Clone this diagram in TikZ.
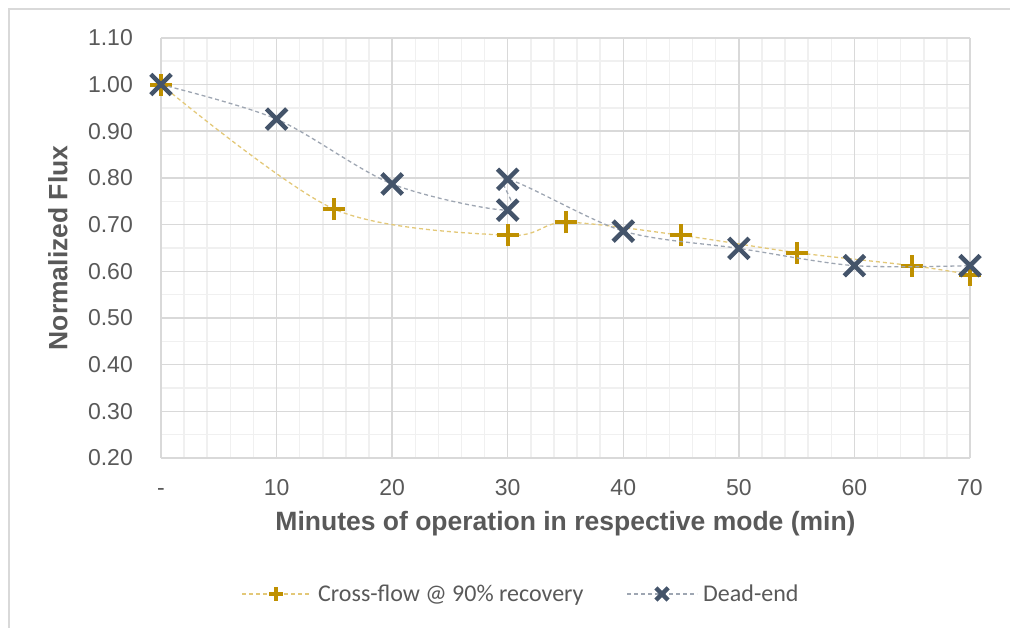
\documentclass[tikz,border=0pt]{standalone}
\usepackage{fontspec}
\setmainfont{Liberation Sans}
\newfontfamily\legendfont{Carlito}
\usetikzlibrary{calc, positioning}

\definecolor{majorgray}{HTML}{D9D9D9}
\definecolor{minorgray}{HTML}{F0F0F0}
\definecolor{labelgray}{HTML}{595959}
\definecolor{crossgold}{HTML}{BF9000}
\definecolor{crossdash}{HTML}{E3C878}
\definecolor{deadblue}{HTML}{44546A}
\definecolor{deaddash}{HTML}{9EA6B2}

\begin{document}
\begin{tikzpicture}[
		majorline/.style={majorgray, line width=1.5pt},
		minorline/.style={minorgray, line width=1.5pt},
		ticklabel/.style={text=labelgray, font=\fontsize{23}{27}\selectfont, inner sep=0pt},
		axistitle/.style={text=labelgray, font=\bfseries\fontsize{26.5}{30}\selectfont, inner sep=0pt},
		legendtext/.style={text=labelgray, font=\legendfont\fontsize{24}{28}\selectfont, inner sep=0pt},
		crossline/.style={crossdash, line width=1.3pt, dash pattern=on 4pt off 3pt},
		deadline/.style={deaddash, line width=1.3pt, dash pattern=on 4pt off 3pt},
		plusmark/.pic={\draw[crossgold, line width=4pt] (-11pt,0pt) -- (11pt,0pt) (0pt,-11pt) -- (0pt,11pt);},
		xmark/.pic={\draw[deadblue, line width=4.5pt] (-10.2pt,-10.2pt) -- (10.2pt,10.2pt) (-10.2pt,10.2pt) -- (10.2pt,-10.2pt);}
	]
		\useasboundingbox (0,0) rectangle (1010pt,628pt);
		\draw[majorline] (9pt,0pt) -- (9pt,619pt) -- (1010pt,619pt);
		
		\begin{scope}[x=11.557pt, y=466.8pt, shift={(161pt,76.64pt)}]
			% grid
			\foreach \i in {0,...,35} \draw[minorline] (2*\i,0.2) -- (2*\i,1.1);
			\foreach \k in {4,...,22} \draw[minorline] (0,\k/20) -- (70,\k/20);
			\foreach \i in {0,...,7} \draw[majorline] (10*\i,0.2) -- (10*\i,1.1);
			\foreach \k in {2,...,11} \draw[majorline] (0,\k/10) -- (70,\k/10);
			
			\foreach \v [count=\i] in {0.20,0.30,0.40,0.50,0.60,0.70,0.80,0.90,1.00,1.10}
				\node[ticklabel, anchor=east] (ytick\i) at ([xshift=-28pt]0,\v) {\v};
			\foreach \x/\lab in {0/-,10/10,20/20,30/30,40/40,50/50,60/60,70/70}
				\node[ticklabel, anchor=base] (xtick\x) at ([yshift=-38pt]\x,0.2) {\lab};
			
			\node[axistitle, anchor=base] (xtitle) at ([yshift=-73pt]35,0.2) {Minutes of operation in respective mode (min)};
			\node[axistitle, rotate=90] (ytitle) at ([xshift=-103pt]0,0.65) {Normalized Flux};
			
			% series
			\draw[crossline] plot[smooth, tension=0.5] coordinates {(0,1.00) (15,0.733) (30,0.677) (35,0.705) (45,0.677) (55,0.640) (65,0.612) (70,0.593)};
			\foreach \x/\y in {0/1.00,15/0.733,30/0.677,35/0.705,45/0.677,55/0.640,65/0.612,70/0.593}
				\pic at (\x,\y) {plusmark};
			
			\draw[deadline] plot[smooth, tension=0.5] coordinates {(0,1.00) (10,0.926) (20,0.787) (30,0.731) (30,0.797) (40,0.686) (50,0.649) (60,0.612) (70,0.612)};
			\foreach \x/\y in {0/1.00,10/0.926,20/0.787,30/0.731,30/0.797,40/0.686,50/0.649,60/0.612,70/0.612}
				\pic at (\x,\y) {xmark};
		\end{scope}
		
		% legend
		\draw[crossline] (242pt,34pt) -- (310pt,34pt);
		\pic[scale=0.6] at (276pt,34pt) {plusmark};
		\node[legendtext, anchor=base west] (crosslabel) at (318pt,26pt) {Cross-flow @ 90\% recovery};
		
		\draw[deadline] (627pt,34pt) -- (697pt,34pt);
		\pic[scale=0.6] at (662pt,34pt) {xmark};
		\node[legendtext, anchor=base west] (deadlabel) at (703pt,26pt) {Dead-end};
		
	\end{tikzpicture}
\end{document}
